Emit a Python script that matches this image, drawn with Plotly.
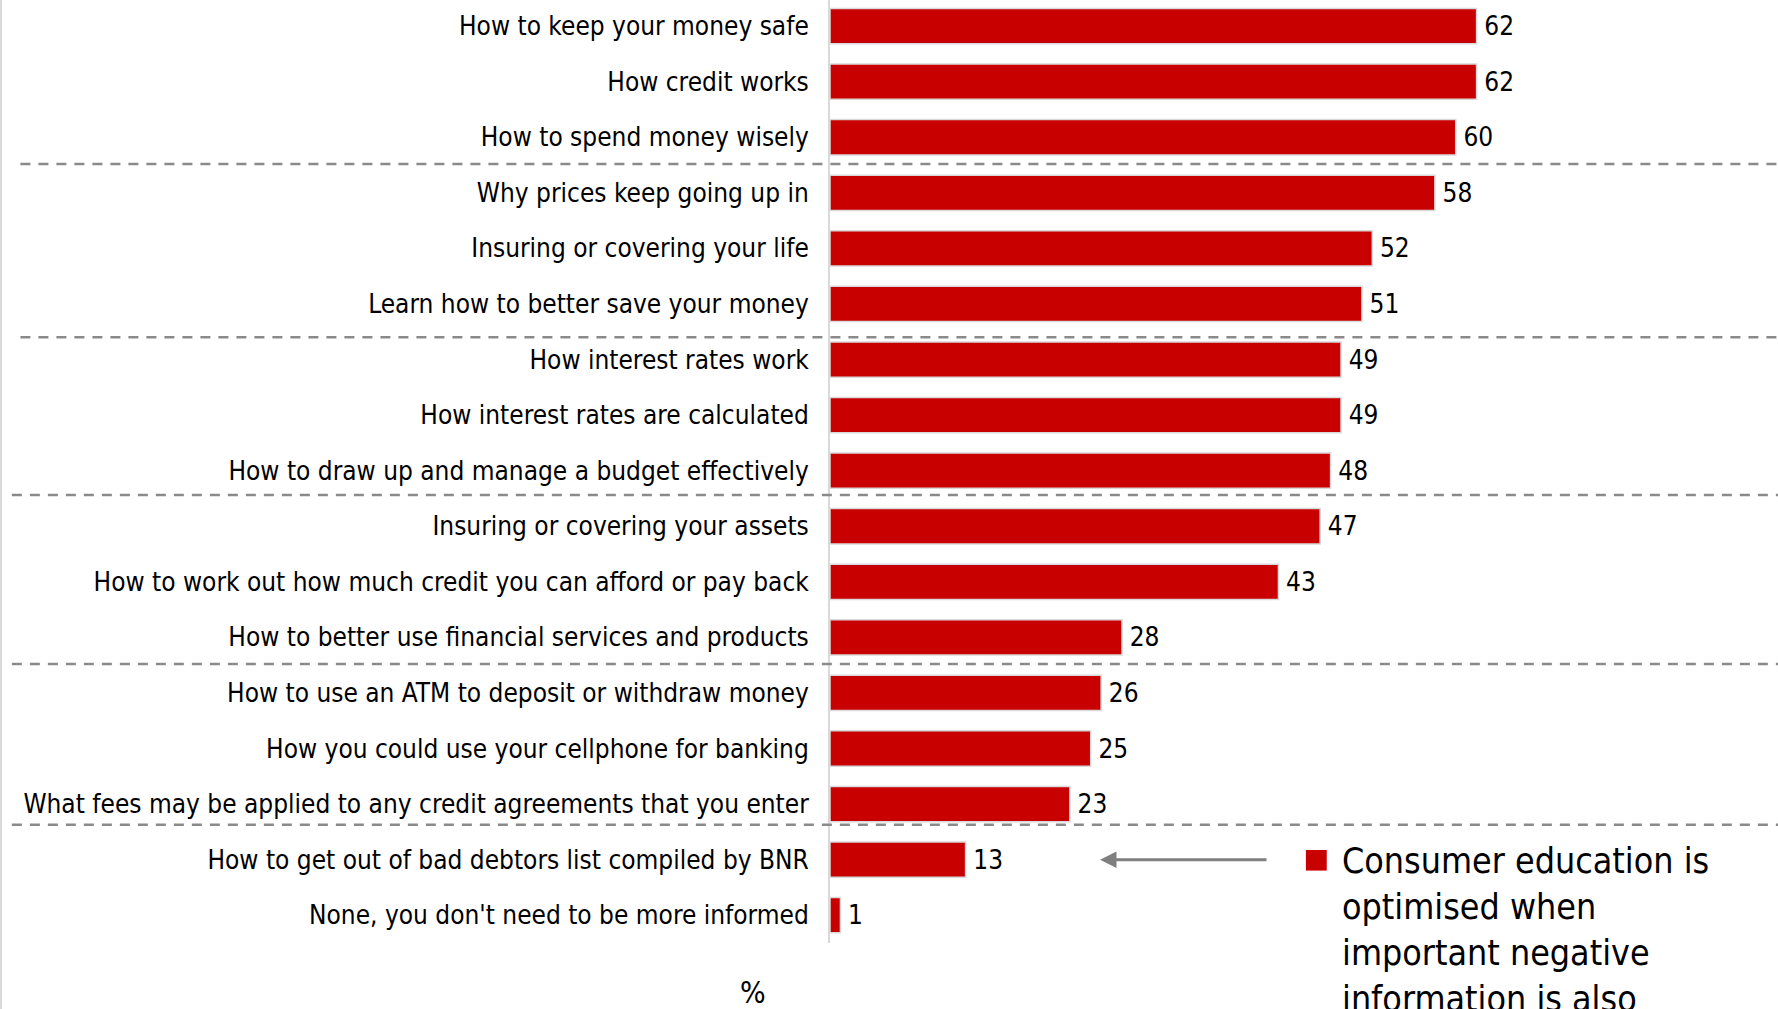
import plotly.graph_objects as go

# Survey topics (top to bottom) and share of respondents, %
topics = [
    "How to keep your money safe",
    "How credit works",
    "How to spend money wisely",
    "Why prices keep going up in",
    "Insuring or covering your life",
    "Learn how to better save your money",
    "How interest rates work",
    "How interest rates are calculated",
    "How to draw up and manage a budget effectively",
    "Insuring or covering your assets",
    "How to work out how much credit you can afford or pay back",
    "How to better use financial services and products",
    "How to use an ATM to deposit or withdraw money",
    "How you could use your cellphone for banking",
    "What fees may be applied to any credit agreements that you enter",
    "How to get out of bad debtors list compiled by BNR",
    "None, you don't need to be more informed",
]
shares = [62, 62, 60, 58, 52, 51, 49, 49, 48, 47, 43, 28, 26, 25, 23, 13, 1]

# Group separators (in category units) and where each dashed rule starts
separator_pos = [2.48, 5.60, 8.44, 11.48, 14.37]
separator_start = [-0.854, -0.854, -0.863, -0.863, -0.863]

note_text = ("Consumer education is<br>optimised when<br>"
             "important negative<br>information is also")

FONT = "DejaVu Sans Condensed, DejaVu Sans, sans-serif"
RED = "#C80000"

fig = go.Figure(
    go.Bar(
        x=shares,
        y=topics,
        orientation="h",
        marker=dict(color=RED, line=dict(color="#d9d9d9", width=1.5)),
        text=["\u2009" + str(v) for v in shares],
        textposition="outside",
        textfont=dict(family=FONT, size=26, color="#000000"),
        cliponaxis=False,
        width=0.635,
    )
)

shapes = []
for pos, start in zip(separator_pos, separator_start):
    shapes.append(dict(
        type="line", xref="paper", yref="y",
        x0=start, x1=1.0, y0=pos, y1=pos,
        line=dict(color="#8a8a8a", width=2.5, dash="10px,8px"),
        layer="above",
    ))

# thin frame line on the far left
shapes.append(dict(
    type="line", xref="paper", yref="paper",
    x0=-0.8745, x1=-0.8745, y0=-0.07, y1=1.0,
    line=dict(color="#d9d9d9", width=2),
))

# red bullet next to the note
shapes.append(dict(
    type="rect", xref="paper", yref="paper",
    x0=0.502, x1=0.524, y0=0.0768, y1=0.0986,
    fillcolor=RED, line=dict(width=0),
))

annotations = [
    dict(
        xref="paper", yref="paper", x=-0.0812, y=-0.052,
        text="%", showarrow=False,
        font=dict(family=FONT, size=30, color="#000000"),
        xanchor="center", yanchor="middle",
    ),
    dict(
        xref="paper", yref="y", x=0.2848, y=topics[15],
        ax=168, ay=0, text="", showarrow=True,
        arrowhead=2, arrowsize=1.1, arrowwidth=3, arrowcolor="#7f7f7f",
    ),
    dict(
        xref="paper", yref="paper", x=0.538, y=0.111,
        text=note_text, showarrow=False, align="left",
        font=dict(family=FONT, size=35.5, color="#000000"),
        xanchor="left", yanchor="top",
    ),
]

fig.update_layout(
    width=1778, height=1009,
    margin=dict(l=830, r=0, t=0, b=65.5),
    paper_bgcolor="white", plot_bgcolor="white",
    showlegend=False,
    bargap=0.365,
    shapes=shapes,
    annotations=annotations,
    xaxis=dict(
        range=[0, 90.9], visible=False, showgrid=False, zeroline=False,
    ),
    yaxis=dict(
        categoryorder="array", categoryarray=topics,
        range=[16.5, -0.47],
        showgrid=False, zeroline=False,
        showline=True, linecolor="#d9d9d9", linewidth=2,
        ticks="", ticklabelstandoff=14,
        tickfont=dict(family=FONT, size=26, color="#000000"),
    ),
)

fig.write_html("out.html")
